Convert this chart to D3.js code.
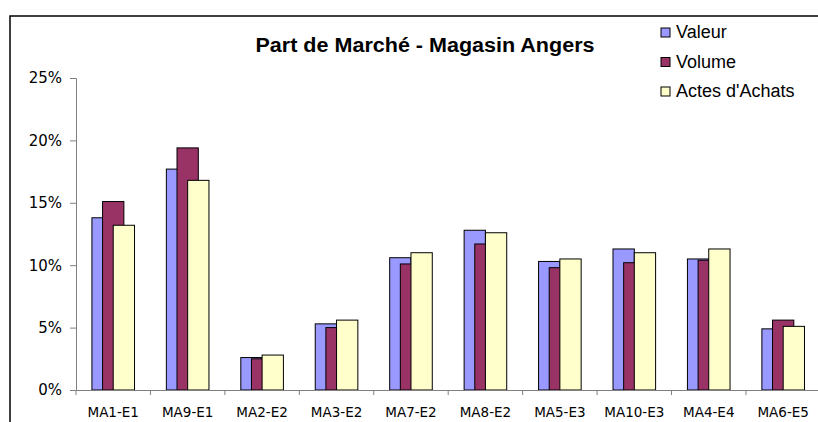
<html>
  <head>
    <style>
      body { margin: 0; background: #fff; }
      text { fill: #000; }
    </style>
  </head>
  <body>
    <svg id="container" height="422" width="818"></svg>
  </body>
  <script src="https://cdn.jsdelivr.net/npm/d3@7"></script>
  <script>
    let categories = ["MA1-E1", "MA9-E1", "MA2-E2", "MA3-E2", "MA7-E2", "MA8-E2", "MA5-E3", "MA10-E3", "MA4-E4", "MA6-E5"];
    let valeur = [13.8, 17.7, 2.6, 5.3, 10.6, 12.8, 10.3, 11.3, 10.5, 4.9];
    let volume = [15.1, 19.4, 2.5, 5.0, 10.1, 11.7, 9.8, 10.2, 10.4, 5.6];
    let actes = [13.2, 16.8, 2.8, 5.6, 11.0, 12.6, 10.5, 11.0, 11.3, 5.1];
    let seriesNames = ["Valeur", "Volume", "Actes d'Achats"];
    let seriesColors = ["#9999FF", "#993366", "#FFFFCC"];
    let yTicks = [0, 5, 10, 15, 20, 25];

    let series = [valeur, volume, actes];
    let svg = d3.select("#container");

    // frame (right and bottom edges fall outside the picture)
    svg.append("rect")
        .attr("x", 10).attr("y", 16)
        .attr("width", 900).attr("height", 500)
        .attr("fill", "none").attr("stroke", "#000").attr("stroke-width", 1.5);

    let plotLeft = 76, plotBottom = 390, plotTop = 78;
    let bandW = 74.44;
    let plotRight = plotLeft + bandW * categories.length;

    let xScale = d3.scaleBand()
        .domain(categories)
        .range([plotLeft, plotRight])
        .paddingInner(0).paddingOuter(0);

    let yScale = d3.scaleLinear()
        .domain([0, 25])
        .range([plotBottom, plotTop]);

    // bars: width 21.3, step half a bar (overlap)
    let barW = 21.3, step = 10.65;
    series.forEach((vals, s) => {
        svg.append("g").selectAll("rect")
            .data(vals)
            .join("rect")
            .attr("x", (d, i) => xScale(categories[i]) + xScale.bandwidth() / 2 - (step + barW / 2) + s * step)
            .attr("y", d => yScale(d))
            .attr("width", barW)
            .attr("height", d => plotBottom - yScale(d))
            .attr("fill", seriesColors[s])
            .attr("stroke", "#000")
            .attr("stroke-width", 1);
    });

    // y axis
    let yAxis = svg.append("g")
        .attr("transform", "translate(" + plotLeft + ",0)")
        .call(d3.axisLeft(yScale).tickValues(yTicks).tickSize(6).tickPadding(8).tickFormat(d => d + "%"));
    yAxis.selectAll("text").attr("font-family", "DejaVu Sans, Verdana, sans-serif").attr("font-size", 15);

    // x axis
    let xAxis = svg.append("g")
        .attr("transform", "translate(0," + plotBottom + ")")
        .call(d3.axisBottom(xScale).tickSize(0).tickPadding(17));
    xAxis.selectAll("text").attr("font-family", "DejaVu Sans, Verdana, sans-serif").attr("font-size", 13.5);

    let edges = d3.range(categories.length + 1).map(i => plotLeft + i * bandW);
    svg.append("g").selectAll("line")
        .data(edges)
        .join("line")
        .attr("x1", d => d).attr("x2", d => d)
        .attr("y1", plotBottom).attr("y2", plotBottom + 5)
        .attr("stroke", "#808080");

    svg.selectAll(".domain").attr("stroke", "#808080");
    svg.selectAll(".tick line").attr("stroke", "#808080");

    // title
    svg.append("text")
        .attr("x", 425).attr("y", 52)
        .attr("text-anchor", "middle")
        .attr("font-family", "Liberation Sans, Arial, sans-serif")
        .attr("font-weight", "bold")
        .attr("font-size", 20)
        .attr("textLength", 339)
        .attr("lengthAdjust", "spacingAndGlyphs")
        .text("Part de Marché - Magasin Angers");

    // legend
    let legend = svg.append("g").selectAll("g")
        .data(seriesNames)
        .join("g")
        .attr("transform", (d, i) => "translate(661," + (28 + i * 29.5) + ")");
    legend.append("rect")
        .attr("width", 9).attr("height", 9)
        .attr("fill", (d, i) => seriesColors[i])
        .attr("stroke", "#000").attr("stroke-width", 1);
    legend.append("text")
        .attr("x", 15).attr("y", 10)
        .attr("font-family", "Liberation Sans, Arial, sans-serif")
        .attr("font-size", 18)
        .text(d => d);
  </script>
</html>
